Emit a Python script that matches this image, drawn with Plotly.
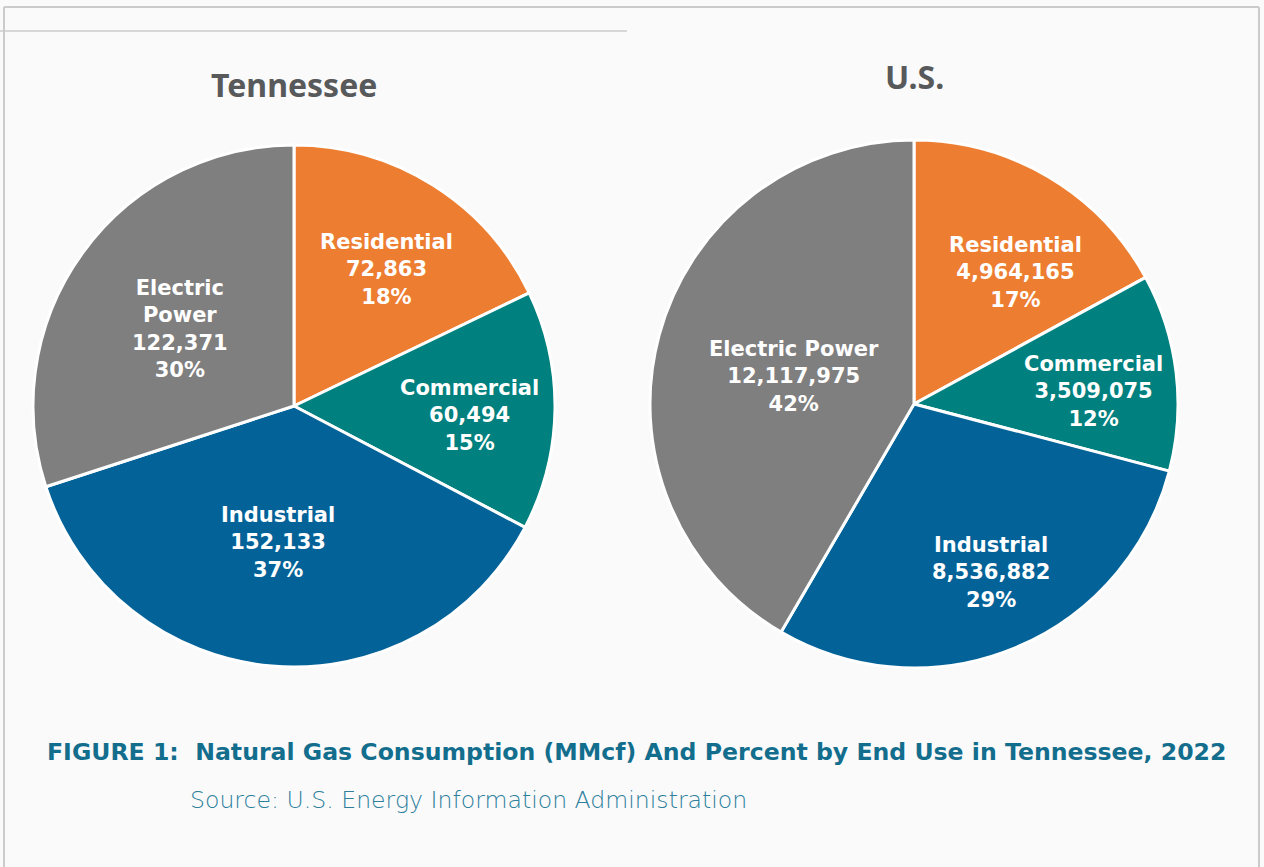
import math
import plotly.graph_objects as go

# Natural gas consumption by end use, 2022 (MMcf)
categories = ["Residential", "Commercial", "Industrial", "Electric Power"]
tn_values = [72863, 60494, 152133, 122371]
us_values = [4964165, 3509075, 8536882, 12117975]

# Slice label names as displayed in each pie
tn_names = ["Residential", "Commercial", "Industrial", "Electric<br>Power"]
us_names = ["Residential", "Commercial", "Industrial", "Electric Power"]

colors = ["#ED7D31", "#00807E", "#036399", "#7F7F7F"]

W, H = 1264, 867
BG = "#fafafa"
FRAME = "#cbcbcb"
LABEL_FONT = dict(family="DejaVu Sans", size=21, color="white", weight="bold")

# Pie placement (pixel boxes); label radial fraction and angular nudge (deg) per slice
pies = [
    dict(title="Tennessee", values=tn_values, names=tn_names,
         box=(33, 145, 555, 667),
         rfrac=[0.63, 0.675, 0.525, 0.527], nudge=[2, 2, 2, -2], title_y=85),
    dict(title="U.S.", values=us_values, names=us_names,
         box=(650, 140, 1178, 668),
         rfrac=[0.63, 0.68, 0.703, 0.467], nudge=[7, 3, -2, -2], title_y=77),
]

fig = go.Figure()
annotations = []

for p in pies:
    x0, y0, x1, y1 = p["box"]
    dom_x = [x0 / W, x1 / W]
    dom_y = [1 - y1 / H, 1 - y0 / H]
    fig.add_trace(go.Pie(
        labels=categories, values=p["values"], sort=False,
        direction="clockwise", rotation=0,
        marker=dict(colors=colors, line=dict(color="white", width=3)),
        textinfo="none", hoverinfo="label+value+percent",
        domain=dict(x=dom_x, y=dom_y), showlegend=False,
    ))

    cx, cy = (x0 + x1) / 2, (y0 + y1) / 2
    r = min(x1 - x0, y1 - y0) / 2
    total = sum(p["values"])
    cum = 0.0
    for name, v, rf, nd in zip(p["names"], p["values"], p["rfrac"], p["nudge"]):
        frac = v / total
        mid = (cum + frac / 2) * 2 * math.pi + math.radians(nd)
        cum += frac
        px = cx + rf * r * math.sin(mid)
        py = cy - rf * r * math.cos(mid)
        annotations.append(dict(
            x=px / W, y=1 - py / H, xref="paper", yref="paper",
            xanchor="center", yanchor="middle", showarrow=False,
            text=f"{name}<br>{v:,}<br>{round(frac * 100)}%",
            font=LABEL_FONT, align="center",
        ))

    annotations.append(dict(
        x=cx / W, y=1 - p["title_y"] / H, xref="paper", yref="paper",
        xanchor="center", yanchor="middle", showarrow=False,
        text=f"<b>{p['title']}</b>",
        font=dict(family="Noto Sans", size=32, color="#58595B"),
    ))

annotations.append(dict(
    x=45 / W, y=1 - 752 / H, xref="paper", yref="paper",
    xanchor="left", yanchor="middle", showarrow=False,
    text="<b>FIGURE 1:  Natural Gas Consumption (MMcf) And Percent by End Use in Tennessee, 2022</b>",
    font=dict(family="DejaVu Sans", size=23.6, color="#136E8E"),
))
annotations.append(dict(
    x=188 / W, y=1 - 800 / H, xref="paper", yref="paper",
    xanchor="left", yanchor="middle", showarrow=False,
    text="Source: U.S. Energy Information Administration",
    font=dict(family="DejaVu Sans", size=23.6, color="#2D7F9C", weight=200),
))

shapes = [
    dict(type="line", xref="paper", yref="paper", x0=4 / W, x1=4 / W, y0=0, y1=1 - 7 / H,
         line=dict(color=FRAME, width=2)),
    dict(type="line", xref="paper", yref="paper", x0=1259 / W, x1=1259 / W, y0=0, y1=1 - 7 / H,
         line=dict(color=FRAME, width=2)),
    dict(type="line", xref="paper", yref="paper", x0=4 / W, x1=1259 / W, y0=1 - 7 / H, y1=1 - 7 / H,
         line=dict(color=FRAME, width=2)),
    dict(type="line", xref="paper", yref="paper", x0=0, x1=627 / W, y0=1 - 31 / H, y1=1 - 31 / H,
         line=dict(color=FRAME, width=1.5)),
]

fig.update_layout(
    width=W, height=H,
    margin=dict(l=0, r=0, t=0, b=0),
    paper_bgcolor=BG, plot_bgcolor=BG,
    annotations=annotations, shapes=shapes,
)

fig.write_html("out.html")
